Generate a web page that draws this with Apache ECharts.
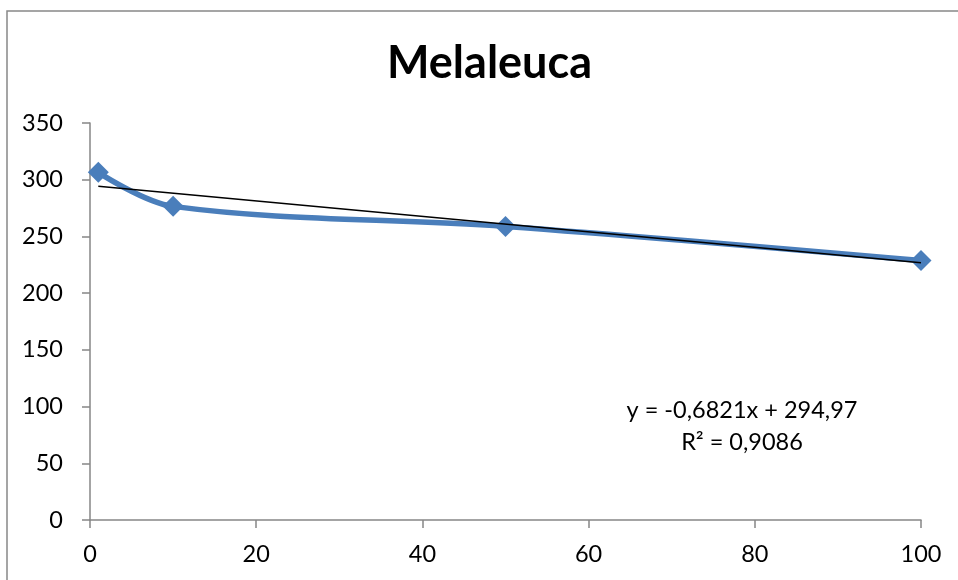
<!DOCTYPE html>
<html><head><meta charset="utf-8">
<script src="https://cdn.jsdelivr.net/npm/echarts@6/dist/echarts.min.js"></script>
<style>html,body{margin:0;padding:0;background:#fff}#c{width:958px;height:580px}</style>
</head><body><div id="c"></div>
<script>
const titleText = 'Melaleuca';
const xValues = [1, 10, 50, 100];
const yValues = [306.5, 276.5, 258.8, 228.7];
const trendX = [1, 100];
const trendY = [294.3, 226.8];
const xTicks = [0, 20, 40, 60, 80, 100];
const yTicks = [0, 50, 100, 150, 200, 250, 300, 350];
const eqLines = ['y = -0,6821x + 294,97', 'R² = 0,9086'];

const font = 'Lato, "Open Sans", sans-serif';
const chart = echarts.init(document.getElementById('c'), null, {renderer: 'canvas'});
chart.setOption({
  animation: false,
  backgroundColor: '#fff',
  title: {text: titleText, left: 382, top: 36, textStyle: {fontFamily: font, fontSize: 45, fontWeight: 'bold', color: '#000'}},
  grid: {left: 90, right: 37, top: 123, bottom: 60, containLabel: false},
  xAxis: {type: 'value', min: xTicks[0], max: xTicks[xTicks.length-1], interval: 20,
    axisLine: {lineStyle: {color: '#868686', width: 1.5}},
    axisTick: {show: true, length: 8, lineStyle: {color: '#868686', width: 1.5}},
    axisLabel: {color: '#000', fontSize: 23.5, fontFamily: font, margin: 22},
    splitLine: {show: false}},
  yAxis: {type: 'value', min: yTicks[0], max: yTicks[yTicks.length-1], interval: 50,
    axisLine: {show: true, lineStyle: {color: '#868686', width: 1.5}},
    axisTick: {show: true, length: 8, lineStyle: {color: '#868686', width: 1.5}},
    axisLabel: {color: '#000', fontSize: 23.5, fontFamily: font, margin: 27},
    splitLine: {show: false}},
  series: [
    {type: 'line', data: xValues.map((x, i) => [x, yValues[i]]), smooth: 0.35,
     symbol: 'diamond', symbolSize: 21,
     lineStyle: {color: '#4a7ebb', width: 5.5}, itemStyle: {color: '#4a7ebb'}, z: 2},
    {type: 'line', data: trendX.map((x, i) => [x, trendY[i]]), symbol: 'none',
     lineStyle: {color: '#000', width: 1.5}, z: 3}
  ],
  graphic: [
    {type: 'rect', shape: {x: 7, y: 11, width: 960, height: 600}, style: {fill: 'none', stroke: '#888', lineWidth: 1.5}, silent: true},
    {type: 'text', x: 742, y: 410, style: {text: eqLines[0], fontSize: 23.5, fontFamily: font, fill: '#000', align: 'center', verticalAlign: 'middle'}},
    {type: 'text', x: 742, y: 442, style: {text: eqLines[1], fontSize: 23.5, fontFamily: font, fill: '#000', align: 'center', verticalAlign: 'middle'}}
  ]
});
</script></body></html>
